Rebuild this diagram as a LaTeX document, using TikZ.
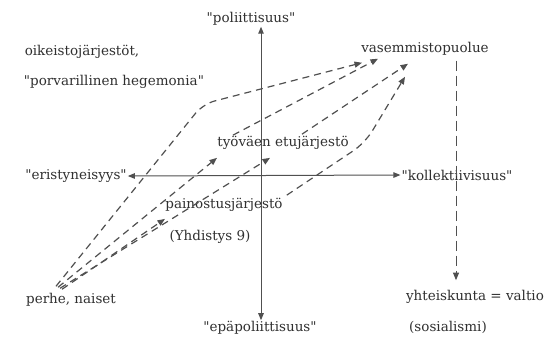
\documentclass[tikz,border=0pt]{standalone}
\usepackage{fontspec}
\setmainfont{DejaVu Serif}[Ligatures=TeXOff]
\usetikzlibrary{arrows.meta}
\definecolor{ink}{HTML}{303030}
\definecolor{ln}{HTML}{505050}
\begin{document}
\begin{tikzpicture}[x=1pt,y=-1pt,
  lbl/.style={inner sep=1pt, text=ink, font=\fontsize{13.5}{15}\selectfont},
  axisline/.style={draw=ln, line width=1pt, {Triangle[length=7pt,width=5.5pt]}-{Triangle[length=7pt,width=5.5pt]}},
  dsh/.style={draw=ln, line width=1.2pt, dash pattern=on 7pt off 5pt, -{Triangle[length=7.5pt,width=6pt]}},
  vdsh/.style={draw=ln, line width=0.9pt, dash pattern=on 10pt off 5pt, -{Triangle[length=7.5pt,width=6pt]}}]
\useasboundingbox (0,0) rectangle (556,338);
\fill[white] (0,0) rectangle (556,338);
% labels
\node[lbl] (pol) at (251,19) {"poliittisuus"};
\node[lbl] (epa) at (260,328) {"epäpoliittisuus"};
\node[lbl] (eri) at (76,176) {"eristyneisyys"};
\node[lbl] (kol) at (457,175) {"kollektiivisuus"};
\node[lbl] (oik) at (82,52) {oikeistojärjestöt,};
\node[lbl] (por) at (114,82) {"porvarillinen hegemonia"};
\node[lbl] (vas) at (425,49) {vasemmistopuolue};
\node[lbl] (tyo) at (283,143) {työväen etujärjestö};
\node[lbl] (pai) at (224,205) {painostusjärjestö};
\node[lbl] (yhd) at (210,237) {(Yhdistys 9)};
\node[lbl] (per) at (71,300) {perhe, naiset};
\node[lbl] (yht) at (475,297) {yhteiskunta = valtio};
\node[lbl] (sos) at (448,327) {(sosialismi)};
% axes
\coordinate (O) at (261,176);
\draw[axisline] (O |- pol.south) -- (O |- epa.north);
\draw[axisline] (eri.east) -- (kol.west);
% helper coordinates
\coordinate (bend1) at (203,104);
\coordinate (bend2) at (365,143);
% dashed connectors from perhe
\draw[dsh, rounded corners=12pt] ([shift={(-15,-6)}]per.north) -- (bend1) -- ([shift={(-63,6)}]vas.south);
\draw[dsh] ([shift={(-13,-5)}]per.north) -- ([shift={(-66,7)}]tyo.south);
\draw[dsh] ([shift={(-11,-4)}]per.north) -- ([shift={(-13,7)}]tyo.south);
\draw[dsh] ([shift={(-9,-3)}]per.north) -- ([shift={(-59,6)}]pai.south);
% from tyovaen etujarjesto
\draw[dsh] ([shift={(-50,0)}]tyo.north) -- ([shift={(-47,2)}]vas.south);
\draw[dsh] ([shift={(19,-1)}]tyo.north) -- ([shift={(-17,7)}]vas.south);
% from painostusjarjesto
\draw[dsh, rounded corners=14pt] ([shift={(3,-2)}]pai.north east) -- (bend2) -- ([shift={(-20,20)}]vas.south);
% vertical to yhteiskunta
\draw[vdsh] ([shift={(31,4)}]vas.south) -- ([shift={(-19,-9)}]yht.north);
\end{tikzpicture}
\end{document}
